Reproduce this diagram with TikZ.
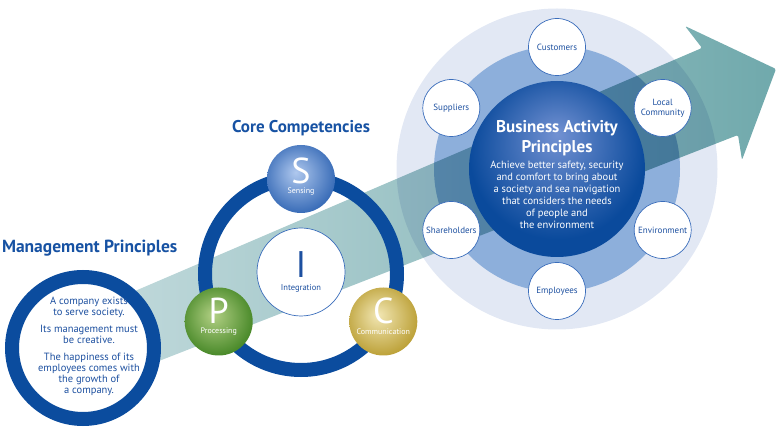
\documentclass[tikz,border=0pt]{standalone}
\usepackage{fontspec}
\setmainfont{PT Sans}
\definecolor{ringblue}{HTML}{0B4C9E}
\definecolor{titleblue}{HTML}{1752A3}
\definecolor{textblue}{HTML}{1D50A0}
\definecolor{satblue}{HTML}{3A6DBB}
\definecolor{paleblue}{HTML}{E2E8F4}
\definecolor{midblue}{HTML}{8DAFDB}
\definecolor{arrowL}{HTML}{C2DADC}
\definecolor{arrowR}{HTML}{70A9AC}
\definecolor{bapin}{HTML}{7291D2}
\definecolor{bapout}{HTML}{0A4A9C}
\definecolor{sin}{HTML}{AFC8EE}
\definecolor{sout}{HTML}{3A6DB8}
\definecolor{pin}{HTML}{B2D084}
\definecolor{pout}{HTML}{4A8A2A}
\definecolor{cin}{HTML}{F2E7B4}
\definecolor{cout}{HTML}{BDA23A}
\pgfdeclareradialshading{bapshade}{\pgfpoint{0bp}{10bp}}{color(0bp)=(bapin); color(25bp)=(bapout); color(50bp)=(bapout)}
\pgfdeclareradialshading{sshade}{\pgfpoint{-4bp}{5bp}}{color(0bp)=(sin); color(27bp)=(sout); color(50bp)=(sout)}
\pgfdeclareradialshading{pshade}{\pgfpoint{-4bp}{5bp}}{color(0bp)=(pin); color(27bp)=(pout); color(50bp)=(pout)}
\pgfdeclareradialshading{cshade}{\pgfpoint{-4bp}{5bp}}{color(0bp)=(cin); color(27bp)=(cout); color(50bp)=(cout)}
\tikzset{
  sat/.style={circle, fill=white, draw=satblue, line width=0.7pt, minimum size=57pt, inner sep=0pt,
    text=textblue, font=\fontsize{9}{10}\selectfont, align=center},
  ball/.style={circle, shade, minimum size=68pt, inner sep=0pt},
  bigletter/.style={font=\fontsize{36}{36}\selectfont, text=white, text height=25.5pt, text depth=0pt},
  balllabel/.style={font=\fontsize{8}{9}\selectfont, text=white},
  heading/.style={font=\fontsize{17}{20}\selectfont\bfseries, text=titleblue},
}
\begin{document}
\begin{tikzpicture}[x=1pt,y=-1pt, every node/.style={inner sep=0pt, outer sep=0pt}]
\useasboundingbox (0,0) rectangle (780,427);
% right-hand circles
\node[circle, fill=paleblue, minimum size=321pt] (outer) at (557,169) {};
\node[circle, fill=midblue, minimum size=246pt] (mid) at (557,169) {};
% arrow
\begin{scope}[blend mode=multiply]
\shade[left color=arrowL, right color=arrowR, rounded corners=1.5pt]
  (100,306) -- (702,48) -- (685,26) -- (776,69) -- (742,160) -- (738,135) -- (100,384) -- cycle;
\end{scope}
\node[circle, shade, shading=bapshade, minimum size=176pt] (bap) at (557,169) {};
\node[font=\fontsize{17}{20}\selectfont\bfseries, text=white, align=center, anchor=north] (baptitle) at (557,120.5) {Business Activity\\Principles};
\node[font=\fontsize{10.5}{12}\selectfont, text=white, align=center, anchor=north] (baptext) at (557,161.5) {Achieve better safety, security\\and comfort to bring about\\a society and sea navigation\\that considers the needs\\of people and\\the environment};
% stakeholders
\node[sat] (cust) at (557,47) {Customers};
\node[sat] (local) at (662.7,108) {Local\\Community};
\node[sat] (env) at (662.7,230) {Environment};
\node[sat] (empl) at (557,291) {Employees};
\node[sat] (share) at (451.3,230) {Shareholders};
\node[sat] (supp) at (451.3,108) {Suppliers};
% core competencies
\node[heading, anchor=base] (coretitle) at (301,133) {Core Competencies};
\node[circle, draw=ringblue, line width=14pt, minimum size=192pt] (corering) at (301,274) {};
\node[circle, fill=white, draw=satblue, line width=0.7pt, minimum size=88pt] (icirc) at (301,272) {};
\node[font=\fontsize{37}{37}\selectfont, text=textblue, text height=26pt, text depth=0pt] (iletter) at (301,264.5) {I};
\node[font=\fontsize{8.5}{9}\selectfont, text=textblue] (ilabel) at (301,288.5) {Integration};
\node[ball, shading=sshade] (scirc) at (301,179) {};
\node[bigletter] (sletter) at (301,171) {S};
\node[balllabel] (slabel) at (301,191.5) {Sensing};
\node[ball, shading=pshade] (pcirc) at (218.7,321.5) {};
\node[bigletter] (pletter) at (218.7,311) {P};
\node[balllabel] (plabel) at (218.7,332) {Processing};
\node[ball, shading=cshade] (ccirc) at (383.3,321.5) {};
\node[bigletter] (cletter) at (383.3,311) {C};
\node[balllabel] (clabel) at (383.3,331.5) {Communication};
% management principles
\node[font=\fontsize{17.5}{20}\selectfont\bfseries, text=titleblue, anchor=base west] (mgmttitle) at (2,253) {Management Principles};
\node[circle, draw=ringblue, fill=white, line width=14pt, minimum size=142pt] (mgmt) at (83,348) {};
\node[font=\fontsize{10.5}{10.7}\selectfont, text=textblue, align=center, anchor=north] (mgmttext) at (89,297.5)
  {A company exists\\to serve society.\\[6.6pt]Its management must\\be creative.\\[6.6pt]The happiness of its\\employees comes with\\the growth of\\a company.};
\end{tikzpicture}
\end{document}
